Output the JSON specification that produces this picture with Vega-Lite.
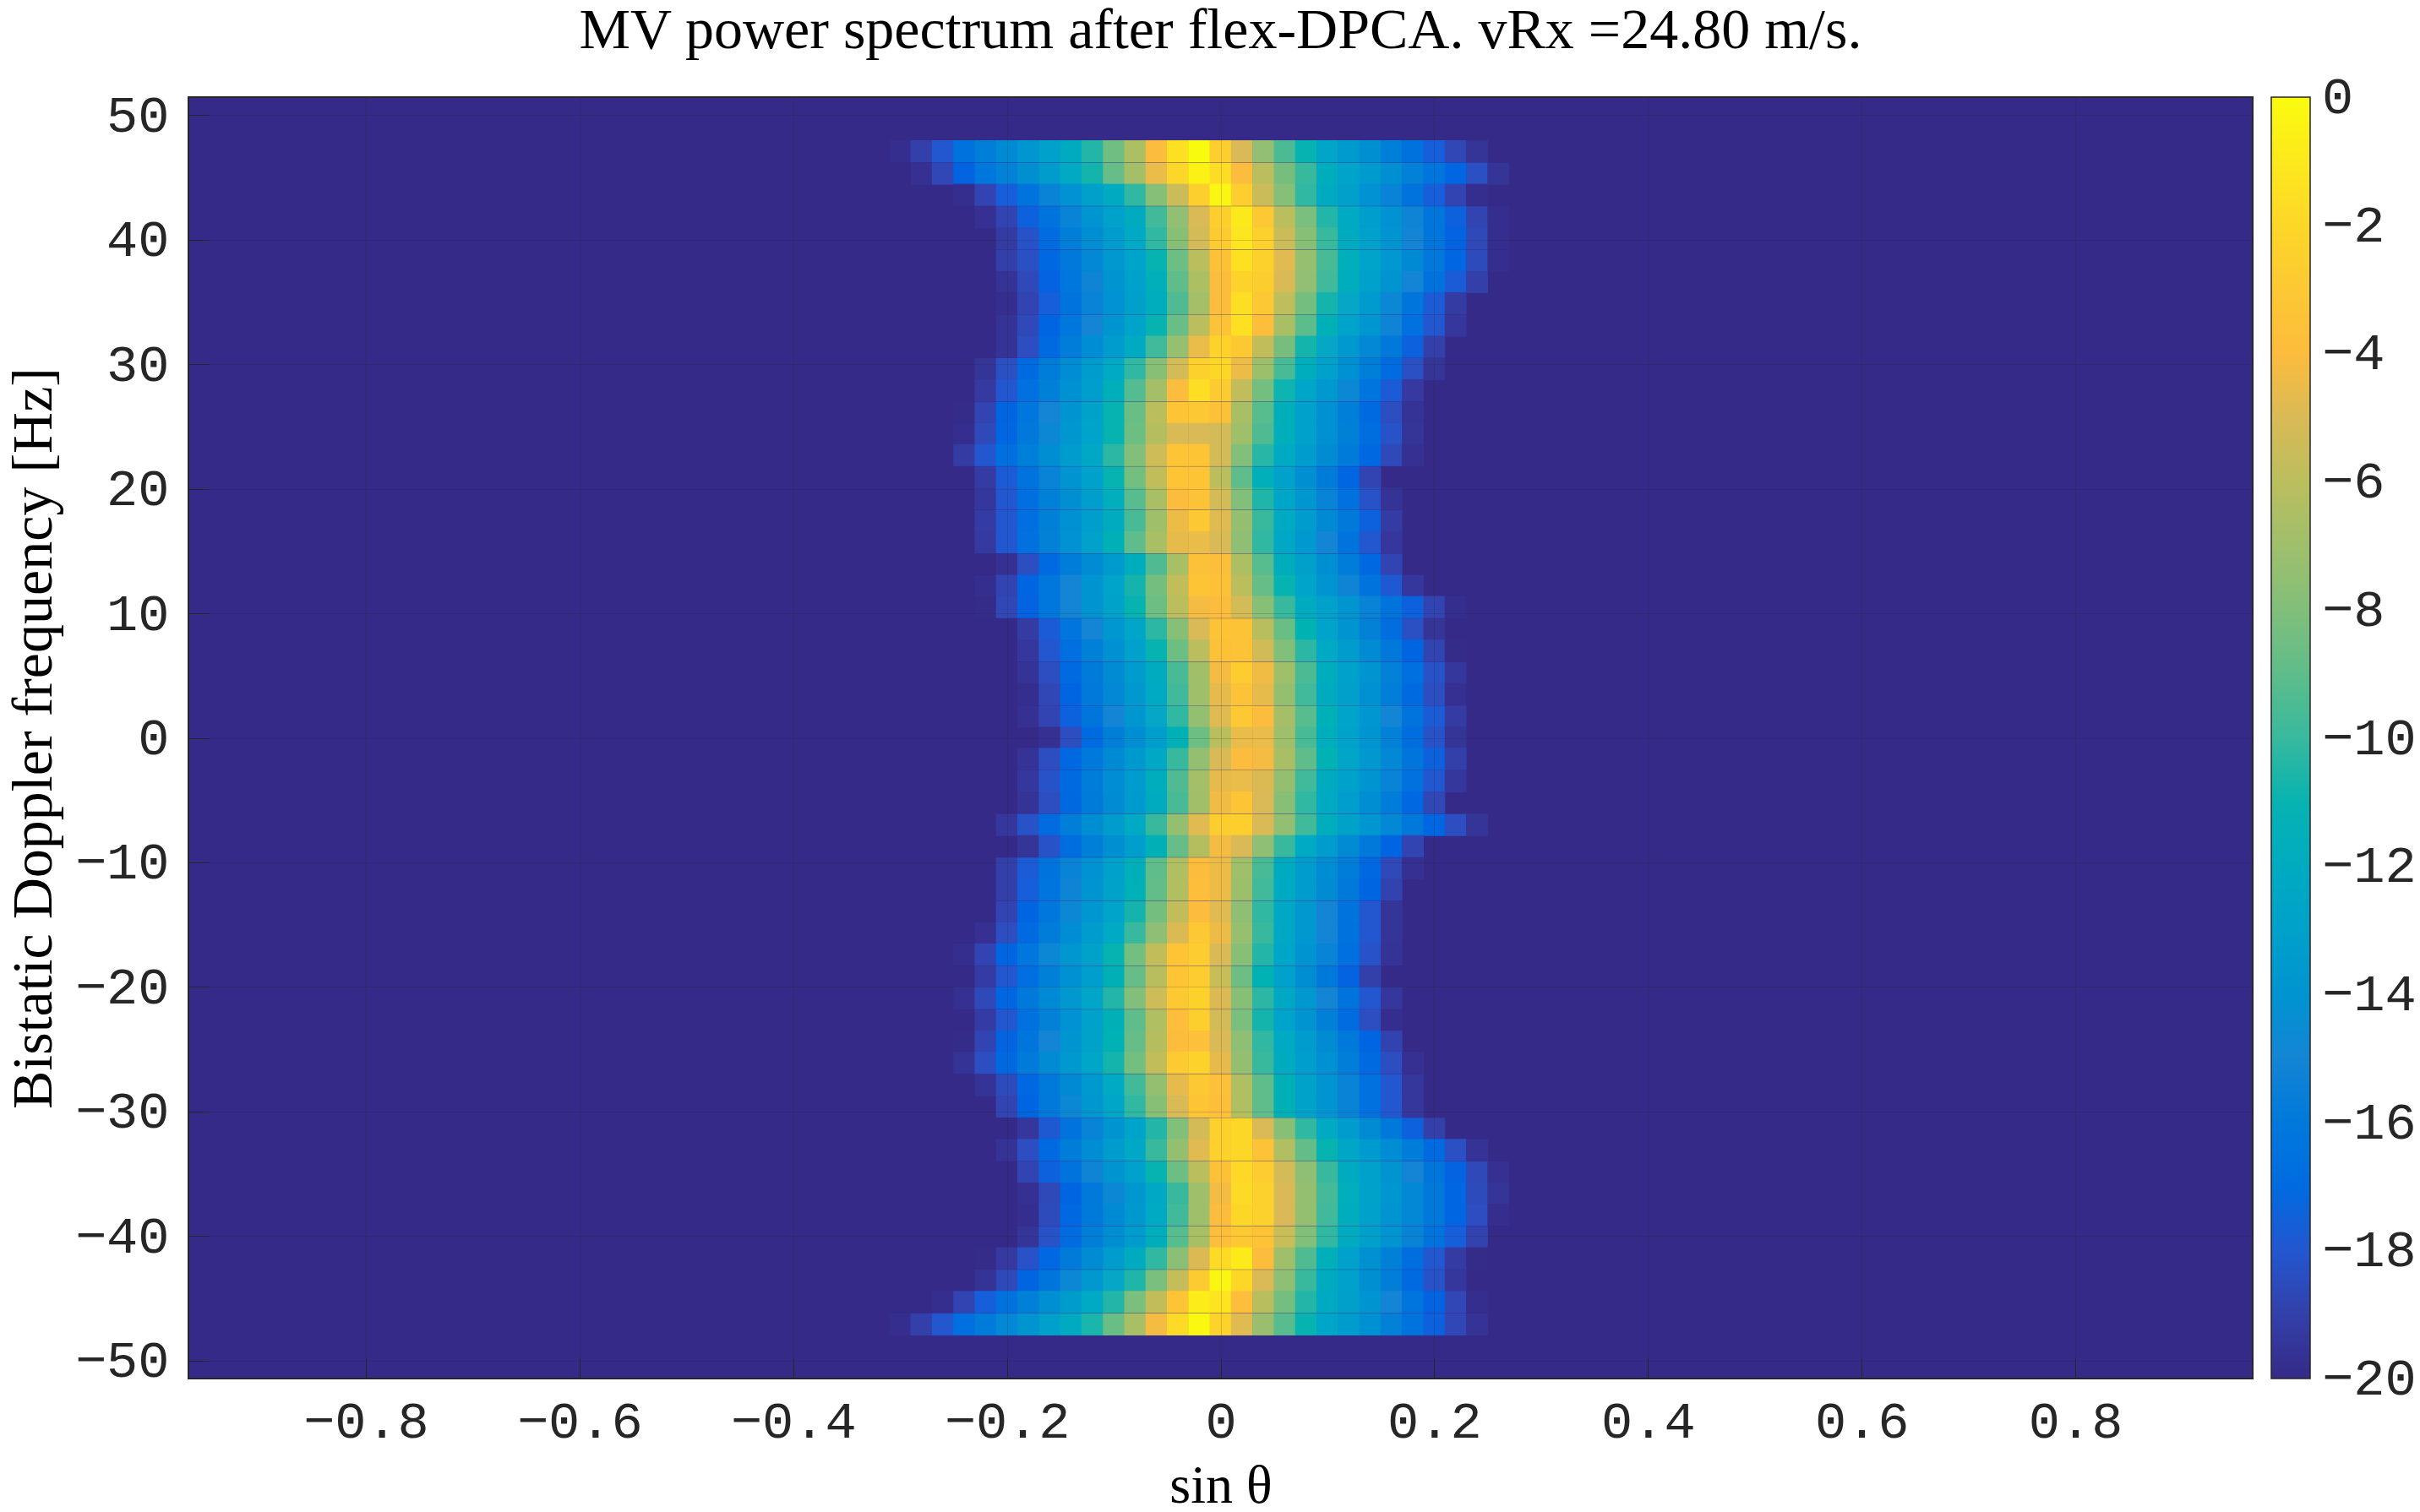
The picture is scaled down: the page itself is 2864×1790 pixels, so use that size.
{"$schema":"https://vega.github.io/schema/vega-lite/v6.json","autosize":"none","padding":{"left":223,"top":115,"right":198,"bottom":158},"width":2443,"height":1517,"background":"white","view":{"fill":"#352a87","stroke":"#262626","strokeWidth":2},"title":{"text":"MV power spectrum after flex-DPCA. vRx =24.80 m/s.","font":"Liberation Serif","fontSize":68,"fontWeight":"normal","color":"#000000","anchor":"middle","offset":34},"data":{"values":[
{"x":-0.3,"y":47.1,"v":-19.8},{"x":-0.28,"y":47.1,"v":-19},{"x":-0.26,"y":47.1,"v":-18},{"x":-0.24,"y":47.1,"v":-16.5},{"x":-0.22,"y":47.1,"v":-15.6},{"x":-0.2,"y":47.1,"v":-14.7},{"x":-0.18,"y":47.1,"v":-13.8},{"x":-0.16,"y":47.1,"v":-13},{"x":-0.14,"y":47.1,"v":-12},{"x":-0.12,"y":47.1,"v":-10.5},{"x":-0.1,"y":47.1,"v":-8.5},{"x":-0.08,"y":47.1,"v":-6.5},{"x":-0.06,"y":47.1,"v":-4},{"x":-0.04,"y":47.1,"v":-1.5},{"x":-0.02,"y":47.1,"v":0},{"x":0,"y":47.1,"v":-2.5},{"x":0.02,"y":47.1,"v":-5},{"x":0.04,"y":47.1,"v":-7.5},{"x":0.06,"y":47.1,"v":-9.5},{"x":0.08,"y":47.1,"v":-11},{"x":0.1,"y":47.1,"v":-12.7},{"x":0.12,"y":47.1,"v":-13.5},{"x":0.14,"y":47.1,"v":-14.3},{"x":0.16,"y":47.1,"v":-15.5},{"x":0.18,"y":47.1,"v":-16.5},{"x":0.2,"y":47.1,"v":-17.7},{"x":0.22,"y":47.1,"v":-18.7},{"x":0.24,"y":47.1,"v":-19.5},
{"x":-0.28,"y":45.3,"v":-19.7},{"x":-0.26,"y":45.3,"v":-18.7},{"x":-0.24,"y":45.3,"v":-17.5},{"x":-0.22,"y":45.3,"v":-16.1},{"x":-0.2,"y":45.3,"v":-15.3},{"x":-0.18,"y":45.3,"v":-14.3},{"x":-0.16,"y":45.3,"v":-13.3},{"x":-0.14,"y":45.3,"v":-12.2},{"x":-0.12,"y":45.3,"v":-10.8},{"x":-0.1,"y":45.3,"v":-8.8},{"x":-0.08,"y":45.3,"v":-6.8},{"x":-0.06,"y":45.3,"v":-4.5},{"x":-0.04,"y":45.3,"v":-2},{"x":-0.02,"y":45.3,"v":-0.5},{"x":0,"y":45.3,"v":-1.7},{"x":0.02,"y":45.3,"v":-4},{"x":0.04,"y":45.3,"v":-6},{"x":0.06,"y":45.3,"v":-8.3},{"x":0.08,"y":45.3,"v":-10},{"x":0.1,"y":45.3,"v":-11.8},{"x":0.12,"y":45.3,"v":-12.8},{"x":0.14,"y":45.3,"v":-13.5},{"x":0.16,"y":45.3,"v":-14.3},{"x":0.18,"y":45.3,"v":-15.3},{"x":0.2,"y":45.3,"v":-16.3},{"x":0.22,"y":45.3,"v":-17.3},{"x":0.24,"y":45.3,"v":-18.3},{"x":0.26,"y":45.3,"v":-19.5},
{"x":-0.24,"y":43.6,"v":-19.8},{"x":-0.22,"y":43.6,"v":-18.8},{"x":-0.2,"y":43.6,"v":-17.7},{"x":-0.18,"y":43.6,"v":-16.4},{"x":-0.16,"y":43.6,"v":-15.2},{"x":-0.14,"y":43.6,"v":-14.1},{"x":-0.12,"y":43.6,"v":-13.1},{"x":-0.1,"y":43.6,"v":-12.1},{"x":-0.08,"y":43.6,"v":-10.2},{"x":-0.06,"y":43.6,"v":-7.9},{"x":-0.04,"y":43.6,"v":-5.5},{"x":-0.02,"y":43.6,"v":-2.5},{"x":0,"y":43.6,"v":-0.3},{"x":0.02,"y":43.6,"v":-2.5},{"x":0.04,"y":43.6,"v":-5.5},{"x":0.06,"y":43.6,"v":-7.9},{"x":0.08,"y":43.6,"v":-10.2},{"x":0.1,"y":43.6,"v":-12.1},{"x":0.12,"y":43.6,"v":-13.1},{"x":0.14,"y":43.6,"v":-14.1},{"x":0.16,"y":43.6,"v":-15.2},{"x":0.18,"y":43.6,"v":-16.4},{"x":0.2,"y":43.6,"v":-17.7},{"x":0.22,"y":43.6,"v":-18.8},{"x":0.24,"y":43.6,"v":-19.8},
{"x":-0.22,"y":41.8,"v":-19.7},{"x":-0.2,"y":41.8,"v":-18.8},{"x":-0.18,"y":41.8,"v":-17.6},{"x":-0.16,"y":41.8,"v":-16.4},{"x":-0.14,"y":41.8,"v":-15.2},{"x":-0.12,"y":41.8,"v":-14},{"x":-0.1,"y":41.8,"v":-13},{"x":-0.08,"y":41.8,"v":-12},{"x":-0.06,"y":41.8,"v":-9.8},{"x":-0.04,"y":41.8,"v":-7.5},{"x":-0.02,"y":41.8,"v":-5},{"x":0,"y":41.8,"v":-2.5},{"x":0.02,"y":41.8,"v":-1},{"x":0.04,"y":41.8,"v":-3},{"x":0.06,"y":41.8,"v":-6},{"x":0.08,"y":41.8,"v":-8.2},{"x":0.1,"y":41.8,"v":-10.5},{"x":0.12,"y":41.8,"v":-12.2},{"x":0.14,"y":41.8,"v":-13.2},{"x":0.16,"y":41.8,"v":-14.1},{"x":0.18,"y":41.8,"v":-15.1},{"x":0.2,"y":41.8,"v":-16.2},{"x":0.22,"y":41.8,"v":-17.6},{"x":0.24,"y":41.8,"v":-18.8},{"x":0.26,"y":41.8,"v":-19.8},
{"x":-0.2,"y":40.1,"v":-19.2},{"x":-0.18,"y":40.1,"v":-18.2},{"x":-0.16,"y":40.1,"v":-16.9},{"x":-0.14,"y":40.1,"v":-15.6},{"x":-0.12,"y":40.1,"v":-14.4},{"x":-0.1,"y":40.1,"v":-13.4},{"x":-0.08,"y":40.1,"v":-12.3},{"x":-0.06,"y":40.1,"v":-10.2},{"x":-0.04,"y":40.1,"v":-7.8},{"x":-0.02,"y":40.1,"v":-5.2},{"x":0,"y":40.1,"v":-2.8},{"x":0.02,"y":40.1,"v":-1.2},{"x":0.04,"y":40.1,"v":-2.4},{"x":0.06,"y":40.1,"v":-5.5},{"x":0.08,"y":40.1,"v":-7.8},{"x":0.1,"y":40.1,"v":-10},{"x":0.12,"y":40.1,"v":-12},{"x":0.14,"y":40.1,"v":-13},{"x":0.16,"y":40.1,"v":-13.9},{"x":0.18,"y":40.1,"v":-15},{"x":0.2,"y":40.1,"v":-16.2},{"x":0.22,"y":40.1,"v":-17.5},{"x":0.24,"y":40.1,"v":-18.6},{"x":0.26,"y":40.1,"v":-19.8},
{"x":-0.2,"y":38.3,"v":-19},{"x":-0.18,"y":38.3,"v":-18.3},{"x":-0.16,"y":38.3,"v":-17.2},{"x":-0.14,"y":38.3,"v":-16},{"x":-0.12,"y":38.3,"v":-14.8},{"x":-0.1,"y":38.3,"v":-13.7},{"x":-0.08,"y":38.3,"v":-12.8},{"x":-0.06,"y":38.3,"v":-11},{"x":-0.04,"y":38.3,"v":-8.6},{"x":-0.02,"y":38.3,"v":-6},{"x":0,"y":38.3,"v":-3.6},{"x":0.02,"y":38.3,"v":-1.5},{"x":0.04,"y":38.3,"v":-2.3},{"x":0.06,"y":38.3,"v":-4.8},{"x":0.08,"y":38.3,"v":-7.3},{"x":0.1,"y":38.3,"v":-9.6},{"x":0.12,"y":38.3,"v":-11.5},{"x":0.14,"y":38.3,"v":-12.8},{"x":0.16,"y":38.3,"v":-13.7},{"x":0.18,"y":38.3,"v":-14.7},{"x":0.2,"y":38.3,"v":-16},{"x":0.22,"y":38.3,"v":-17.3},{"x":0.24,"y":38.3,"v":-18.5},{"x":0.26,"y":38.3,"v":-19.8},
{"x":-0.2,"y":36.6,"v":-19.6},{"x":-0.18,"y":36.6,"v":-18.6},{"x":-0.16,"y":36.6,"v":-17.5},{"x":-0.14,"y":36.6,"v":-16.1},{"x":-0.12,"y":36.6,"v":-15.1},{"x":-0.1,"y":36.6,"v":-14},{"x":-0.08,"y":36.6,"v":-13},{"x":-0.06,"y":36.6,"v":-11.5},{"x":-0.04,"y":36.6,"v":-9},{"x":-0.02,"y":36.6,"v":-6.5},{"x":0,"y":36.6,"v":-4},{"x":0.02,"y":36.6,"v":-2.2},{"x":0.04,"y":36.6,"v":-2.6},{"x":0.06,"y":36.6,"v":-5},{"x":0.08,"y":36.6,"v":-7.5},{"x":0.1,"y":36.6,"v":-9.8},{"x":0.12,"y":36.6,"v":-11.8},{"x":0.14,"y":36.6,"v":-13},{"x":0.16,"y":36.6,"v":-13.9},{"x":0.18,"y":36.6,"v":-15},{"x":0.2,"y":36.6,"v":-16.5},{"x":0.22,"y":36.6,"v":-17.8},{"x":0.24,"y":36.6,"v":-19},
{"x":-0.2,"y":34.9,"v":-19.8},{"x":-0.18,"y":34.9,"v":-18.8},{"x":-0.16,"y":34.9,"v":-17.7},{"x":-0.14,"y":34.9,"v":-16.4},{"x":-0.12,"y":34.9,"v":-15.2},{"x":-0.1,"y":34.9,"v":-14.1},{"x":-0.08,"y":34.9,"v":-13.1},{"x":-0.06,"y":34.9,"v":-11.8},{"x":-0.04,"y":34.9,"v":-9.4},{"x":-0.02,"y":34.9,"v":-6.8},{"x":0,"y":34.9,"v":-4},{"x":0.02,"y":34.9,"v":-1.6},{"x":0.04,"y":34.9,"v":-3},{"x":0.06,"y":34.9,"v":-5.9},{"x":0.08,"y":34.9,"v":-8.4},{"x":0.1,"y":34.9,"v":-10.8},{"x":0.12,"y":34.9,"v":-12.5},{"x":0.14,"y":34.9,"v":-13.5},{"x":0.16,"y":34.9,"v":-14.9},{"x":0.18,"y":34.9,"v":-16.2},{"x":0.2,"y":34.9,"v":-17.8},{"x":0.22,"y":34.9,"v":-19.2},
{"x":-0.2,"y":33.1,"v":-19.6},{"x":-0.18,"y":33.1,"v":-18.6},{"x":-0.16,"y":33.1,"v":-17.4},{"x":-0.14,"y":33.1,"v":-16.1},{"x":-0.12,"y":33.1,"v":-15},{"x":-0.1,"y":33.1,"v":-13.9},{"x":-0.08,"y":33.1,"v":-12.8},{"x":-0.06,"y":33.1,"v":-11},{"x":-0.04,"y":33.1,"v":-8.7},{"x":-0.02,"y":33.1,"v":-6},{"x":0,"y":33.1,"v":-3.5},{"x":0.02,"y":33.1,"v":-1.5},{"x":0.04,"y":33.1,"v":-3.8},{"x":0.06,"y":33.1,"v":-6.6},{"x":0.08,"y":33.1,"v":-9.1},{"x":0.1,"y":33.1,"v":-11.4},{"x":0.12,"y":33.1,"v":-12.8},{"x":0.14,"y":33.1,"v":-13.8},{"x":0.16,"y":33.1,"v":-15.1},{"x":0.18,"y":33.1,"v":-16.6},{"x":0.2,"y":33.1,"v":-18},{"x":0.22,"y":33.1,"v":-19.4},
{"x":-0.2,"y":31.4,"v":-19.6},{"x":-0.18,"y":31.4,"v":-18.4},{"x":-0.16,"y":31.4,"v":-17},{"x":-0.14,"y":31.4,"v":-15.7},{"x":-0.12,"y":31.4,"v":-14.5},{"x":-0.1,"y":31.4,"v":-13.4},{"x":-0.08,"y":31.4,"v":-12.1},{"x":-0.06,"y":31.4,"v":-9.8},{"x":-0.04,"y":31.4,"v":-7.3},{"x":-0.02,"y":31.4,"v":-4.5},{"x":0,"y":31.4,"v":-2.2},{"x":0.02,"y":31.4,"v":-2.9},{"x":0.04,"y":31.4,"v":-5.8},{"x":0.06,"y":31.4,"v":-8.3},{"x":0.08,"y":31.4,"v":-10.8},{"x":0.1,"y":31.4,"v":-12.5},{"x":0.12,"y":31.4,"v":-13.6},{"x":0.14,"y":31.4,"v":-14.8},{"x":0.16,"y":31.4,"v":-16},{"x":0.18,"y":31.4,"v":-17.6},{"x":0.2,"y":31.4,"v":-19},
{"x":-0.22,"y":29.6,"v":-19.5},{"x":-0.2,"y":29.6,"v":-18.3},{"x":-0.18,"y":29.6,"v":-17},{"x":-0.16,"y":29.6,"v":-15.7},{"x":-0.14,"y":29.6,"v":-14.5},{"x":-0.12,"y":29.6,"v":-13.4},{"x":-0.1,"y":29.6,"v":-12.3},{"x":-0.08,"y":29.6,"v":-10.2},{"x":-0.06,"y":29.6,"v":-7.8},{"x":-0.04,"y":29.6,"v":-5.2},{"x":-0.02,"y":29.6,"v":-2.4},{"x":0,"y":29.6,"v":-2},{"x":0.02,"y":29.6,"v":-4.4},{"x":0.04,"y":29.6,"v":-7.1},{"x":0.06,"y":29.6,"v":-9.6},{"x":0.08,"y":29.6,"v":-11.8},{"x":0.1,"y":29.6,"v":-13},{"x":0.12,"y":29.6,"v":-14.2},{"x":0.14,"y":29.6,"v":-15.5},{"x":0.16,"y":29.6,"v":-16.9},{"x":0.18,"y":29.6,"v":-18.3},{"x":0.2,"y":29.6,"v":-19.5},
{"x":-0.22,"y":27.9,"v":-19.3},{"x":-0.2,"y":27.9,"v":-18},{"x":-0.18,"y":27.9,"v":-16.6},{"x":-0.16,"y":27.9,"v":-15.4},{"x":-0.14,"y":27.9,"v":-14.2},{"x":-0.12,"y":27.9,"v":-13.2},{"x":-0.1,"y":27.9,"v":-11.6},{"x":-0.08,"y":27.9,"v":-9.3},{"x":-0.06,"y":27.9,"v":-6.8},{"x":-0.04,"y":27.9,"v":-4},{"x":-0.02,"y":27.9,"v":-1.6},{"x":0,"y":27.9,"v":-2.8},{"x":0.02,"y":27.9,"v":-5.8},{"x":0.04,"y":27.9,"v":-8.4},{"x":0.06,"y":27.9,"v":-10.9},{"x":0.08,"y":27.9,"v":-12.6},{"x":0.1,"y":27.9,"v":-13.6},{"x":0.12,"y":27.9,"v":-14.9},{"x":0.14,"y":27.9,"v":-16.3},{"x":0.16,"y":27.9,"v":-17.8},{"x":0.18,"y":27.9,"v":-19.3},
{"x":-0.24,"y":26.1,"v":-19.9},{"x":-0.22,"y":26.1,"v":-18.8},{"x":-0.2,"y":26.1,"v":-17.4},{"x":-0.18,"y":26.1,"v":-16.1},{"x":-0.16,"y":26.1,"v":-15},{"x":-0.14,"y":26.1,"v":-13.9},{"x":-0.12,"y":26.1,"v":-12.9},{"x":-0.1,"y":26.1,"v":-11},{"x":-0.08,"y":26.1,"v":-8.7},{"x":-0.06,"y":26.1,"v":-6},{"x":-0.04,"y":26.1,"v":-3.3},{"x":-0.02,"y":26.1,"v":-3},{"x":0,"y":26.1,"v":-3.6},{"x":0.02,"y":26.1,"v":-6.6},{"x":0.04,"y":26.1,"v":-9.2},{"x":0.06,"y":26.1,"v":-11.6},{"x":0.08,"y":26.1,"v":-13},{"x":0.1,"y":26.1,"v":-14.2},{"x":0.12,"y":26.1,"v":-15.5},{"x":0.14,"y":26.1,"v":-17},{"x":0.16,"y":26.1,"v":-18.4},{"x":0.18,"y":26.1,"v":-19.6},
{"x":-0.24,"y":24.4,"v":-19.8},{"x":-0.22,"y":24.4,"v":-18.6},{"x":-0.2,"y":24.4,"v":-17.3},{"x":-0.18,"y":24.4,"v":-16},{"x":-0.16,"y":24.4,"v":-14.9},{"x":-0.14,"y":24.4,"v":-13.8},{"x":-0.12,"y":24.4,"v":-12.8},{"x":-0.1,"y":24.4,"v":-11},{"x":-0.08,"y":24.4,"v":-8.6},{"x":-0.06,"y":24.4,"v":-6.2},{"x":-0.04,"y":24.4,"v":-5},{"x":-0.02,"y":24.4,"v":-5},{"x":0,"y":24.4,"v":-5.2},{"x":0.02,"y":24.4,"v":-7},{"x":0.04,"y":24.4,"v":-9.4},{"x":0.06,"y":24.4,"v":-11.6},{"x":0.08,"y":24.4,"v":-13},{"x":0.1,"y":24.4,"v":-14.2},{"x":0.12,"y":24.4,"v":-15.4},{"x":0.14,"y":24.4,"v":-16.8},{"x":0.16,"y":24.4,"v":-18.2},{"x":0.18,"y":24.4,"v":-19.5},
{"x":-0.24,"y":22.7,"v":-19.2},{"x":-0.22,"y":22.7,"v":-18},{"x":-0.2,"y":22.7,"v":-16.7},{"x":-0.18,"y":22.7,"v":-15.5},{"x":-0.16,"y":22.7,"v":-14.4},{"x":-0.14,"y":22.7,"v":-13.4},{"x":-0.12,"y":22.7,"v":-12.4},{"x":-0.1,"y":22.7,"v":-10.3},{"x":-0.08,"y":22.7,"v":-8},{"x":-0.06,"y":22.7,"v":-5.4},{"x":-0.04,"y":22.7,"v":-3.2},{"x":-0.02,"y":22.7,"v":-3.2},{"x":0,"y":22.7,"v":-5.2},{"x":0.02,"y":22.7,"v":-8},{"x":0.04,"y":22.7,"v":-10.4},{"x":0.06,"y":22.7,"v":-12.2},{"x":0.08,"y":22.7,"v":-13.4},{"x":0.1,"y":22.7,"v":-14.6},{"x":0.12,"y":22.7,"v":-15.8},{"x":0.14,"y":22.7,"v":-17.2},{"x":0.16,"y":22.7,"v":-18.6},{"x":0.18,"y":22.7,"v":-19.7},
{"x":-0.22,"y":20.9,"v":-19.2},{"x":-0.2,"y":20.9,"v":-17.8},{"x":-0.18,"y":20.9,"v":-16.4},{"x":-0.16,"y":20.9,"v":-15.2},{"x":-0.14,"y":20.9,"v":-14},{"x":-0.12,"y":20.9,"v":-13},{"x":-0.1,"y":20.9,"v":-11},{"x":-0.08,"y":20.9,"v":-8.4},{"x":-0.06,"y":20.9,"v":-5.8},{"x":-0.04,"y":20.9,"v":-3.2},{"x":-0.02,"y":20.9,"v":-3.2},{"x":0,"y":20.9,"v":-6},{"x":0.02,"y":20.9,"v":-9},{"x":0.04,"y":20.9,"v":-11.5},{"x":0.06,"y":20.9,"v":-13},{"x":0.08,"y":20.9,"v":-14.3},{"x":0.1,"y":20.9,"v":-15.8},{"x":0.12,"y":20.9,"v":-17.3},{"x":0.14,"y":20.9,"v":-18.8},
{"x":-0.22,"y":19.2,"v":-19.4},{"x":-0.2,"y":19.2,"v":-18},{"x":-0.18,"y":19.2,"v":-16.7},{"x":-0.16,"y":19.2,"v":-15.4},{"x":-0.14,"y":19.2,"v":-14.3},{"x":-0.12,"y":19.2,"v":-13.2},{"x":-0.1,"y":19.2,"v":-11.7},{"x":-0.08,"y":19.2,"v":-9.2},{"x":-0.06,"y":19.2,"v":-6.6},{"x":-0.04,"y":19.2,"v":-4},{"x":-0.02,"y":19.2,"v":-3.5},{"x":0,"y":19.2,"v":-5.2},{"x":0.02,"y":19.2,"v":-8},{"x":0.04,"y":19.2,"v":-10.6},{"x":0.06,"y":19.2,"v":-12.6},{"x":0.08,"y":19.2,"v":-13.8},{"x":0.1,"y":19.2,"v":-15.2},{"x":0.12,"y":19.2,"v":-16.6},{"x":0.14,"y":19.2,"v":-18.2},{"x":0.16,"y":19.2,"v":-19.6},
{"x":-0.22,"y":17.4,"v":-19.2},{"x":-0.2,"y":17.4,"v":-18},{"x":-0.18,"y":17.4,"v":-16.7},{"x":-0.16,"y":17.4,"v":-15.4},{"x":-0.14,"y":17.4,"v":-14.2},{"x":-0.12,"y":17.4,"v":-13.2},{"x":-0.1,"y":17.4,"v":-12},{"x":-0.08,"y":17.4,"v":-9.6},{"x":-0.06,"y":17.4,"v":-7},{"x":-0.04,"y":17.4,"v":-4.4},{"x":-0.02,"y":17.4,"v":-3},{"x":0,"y":17.4,"v":-4.8},{"x":0.02,"y":17.4,"v":-7.4},{"x":0.04,"y":17.4,"v":-10},{"x":0.06,"y":17.4,"v":-12.2},{"x":0.08,"y":17.4,"v":-13.4},{"x":0.1,"y":17.4,"v":-14.7},{"x":0.12,"y":17.4,"v":-16},{"x":0.14,"y":17.4,"v":-17.6},{"x":0.16,"y":17.4,"v":-19.2},
{"x":-0.22,"y":15.7,"v":-19.3},{"x":-0.2,"y":15.7,"v":-18},{"x":-0.18,"y":15.7,"v":-16.6},{"x":-0.16,"y":15.7,"v":-15.3},{"x":-0.14,"y":15.7,"v":-14.1},{"x":-0.12,"y":15.7,"v":-13},{"x":-0.1,"y":15.7,"v":-11.4},{"x":-0.08,"y":15.7,"v":-9},{"x":-0.06,"y":15.7,"v":-6.6},{"x":-0.04,"y":15.7,"v":-4.6},{"x":-0.02,"y":15.7,"v":-4.5},{"x":0,"y":15.7,"v":-5},{"x":0.02,"y":15.7,"v":-7.6},{"x":0.04,"y":15.7,"v":-10.2},{"x":0.06,"y":15.7,"v":-12.4},{"x":0.08,"y":15.7,"v":-13.6},{"x":0.1,"y":15.7,"v":-15},{"x":0.12,"y":15.7,"v":-16.4},{"x":0.14,"y":15.7,"v":-18},{"x":0.16,"y":15.7,"v":-19.4},
{"x":-0.2,"y":13.9,"v":-19.7},{"x":-0.18,"y":13.9,"v":-18.4},{"x":-0.16,"y":13.9,"v":-17},{"x":-0.14,"y":13.9,"v":-15.7},{"x":-0.12,"y":13.9,"v":-14.6},{"x":-0.1,"y":13.9,"v":-13.5},{"x":-0.08,"y":13.9,"v":-11.8},{"x":-0.06,"y":13.9,"v":-9.4},{"x":-0.04,"y":13.9,"v":-6.6},{"x":-0.02,"y":13.9,"v":-3.6},{"x":0,"y":13.9,"v":-3.8},{"x":0.02,"y":13.9,"v":-6.5},{"x":0.04,"y":13.9,"v":-9.2},{"x":0.06,"y":13.9,"v":-11.8},{"x":0.08,"y":13.9,"v":-13.1},{"x":0.1,"y":13.9,"v":-14.3},{"x":0.12,"y":13.9,"v":-15.7},{"x":0.14,"y":13.9,"v":-17.2},{"x":0.16,"y":13.9,"v":-18.8},
{"x":-0.22,"y":12.2,"v":-19.8},{"x":-0.2,"y":12.2,"v":-18.8},{"x":-0.18,"y":12.2,"v":-17.4},{"x":-0.16,"y":12.2,"v":-16.1},{"x":-0.14,"y":12.2,"v":-15},{"x":-0.12,"y":12.2,"v":-13.9},{"x":-0.1,"y":12.2,"v":-12.8},{"x":-0.08,"y":12.2,"v":-10.8},{"x":-0.06,"y":12.2,"v":-8.4},{"x":-0.04,"y":12.2,"v":-5.8},{"x":-0.02,"y":12.2,"v":-3.2},{"x":0,"y":12.2,"v":-3.6},{"x":0.02,"y":12.2,"v":-6},{"x":0.04,"y":12.2,"v":-8.8},{"x":0.06,"y":12.2,"v":-11},{"x":0.08,"y":12.2,"v":-12.8},{"x":0.1,"y":12.2,"v":-13.9},{"x":0.12,"y":12.2,"v":-15.1},{"x":0.14,"y":12.2,"v":-16.4},{"x":0.16,"y":12.2,"v":-17.9},{"x":0.18,"y":12.2,"v":-19.4},
{"x":-0.22,"y":10.5,"v":-19.9},{"x":-0.2,"y":10.5,"v":-18.7},{"x":-0.18,"y":10.5,"v":-17.5},{"x":-0.16,"y":10.5,"v":-16.1},{"x":-0.14,"y":10.5,"v":-15},{"x":-0.12,"y":10.5,"v":-13.9},{"x":-0.1,"y":10.5,"v":-12.9},{"x":-0.08,"y":10.5,"v":-11},{"x":-0.06,"y":10.5,"v":-8.6},{"x":-0.04,"y":10.5,"v":-6},{"x":-0.02,"y":10.5,"v":-4.2},{"x":0,"y":10.5,"v":-4},{"x":0.02,"y":10.5,"v":-5.2},{"x":0.04,"y":10.5,"v":-7.8},{"x":0.06,"y":10.5,"v":-10},{"x":0.08,"y":10.5,"v":-12},{"x":0.1,"y":10.5,"v":-13},{"x":0.12,"y":10.5,"v":-14},{"x":0.14,"y":10.5,"v":-15.2},{"x":0.16,"y":10.5,"v":-16.4},{"x":0.18,"y":10.5,"v":-17.6},{"x":0.2,"y":10.5,"v":-18.8},{"x":0.22,"y":10.5,"v":-19.8},
{"x":-0.18,"y":8.7,"v":-19.2},{"x":-0.16,"y":8.7,"v":-17.8},{"x":-0.14,"y":8.7,"v":-16.3},{"x":-0.12,"y":8.7,"v":-15},{"x":-0.1,"y":8.7,"v":-13.8},{"x":-0.08,"y":8.7,"v":-12.6},{"x":-0.06,"y":8.7,"v":-10.3},{"x":-0.04,"y":8.7,"v":-7.8},{"x":-0.02,"y":8.7,"v":-5},{"x":0,"y":8.7,"v":-3.4},{"x":0.02,"y":8.7,"v":-3.4},{"x":0.04,"y":8.7,"v":-6.1},{"x":0.06,"y":8.7,"v":-8.7},{"x":0.08,"y":8.7,"v":-11.1},{"x":0.1,"y":8.7,"v":-12.8},{"x":0.12,"y":8.7,"v":-13.9},{"x":0.14,"y":8.7,"v":-15.3},{"x":0.16,"y":8.7,"v":-16.8},{"x":0.18,"y":8.7,"v":-18.3},{"x":0.2,"y":8.7,"v":-19.5},
{"x":-0.18,"y":7,"v":-19.4},{"x":-0.16,"y":7,"v":-18},{"x":-0.14,"y":7,"v":-16.7},{"x":-0.12,"y":7,"v":-15.4},{"x":-0.1,"y":7,"v":-14.2},{"x":-0.08,"y":7,"v":-13},{"x":-0.06,"y":7,"v":-11},{"x":-0.04,"y":7,"v":-8.6},{"x":-0.02,"y":7,"v":-6},{"x":0,"y":7,"v":-3.6},{"x":0.02,"y":7,"v":-3.5},{"x":0.04,"y":7,"v":-5.3},{"x":0.06,"y":7,"v":-8},{"x":0.08,"y":7,"v":-10.3},{"x":0.1,"y":7,"v":-12.3},{"x":0.12,"y":7,"v":-13.4},{"x":0.14,"y":7,"v":-14.6},{"x":0.16,"y":7,"v":-16},{"x":0.18,"y":7,"v":-17.4},{"x":0.2,"y":7,"v":-18.8},{"x":0.22,"y":7,"v":-19.9},
{"x":-0.18,"y":5.2,"v":-19.6},{"x":-0.16,"y":5.2,"v":-18.4},{"x":-0.14,"y":5.2,"v":-17},{"x":-0.12,"y":5.2,"v":-15.8},{"x":-0.1,"y":5.2,"v":-14.6},{"x":-0.08,"y":5.2,"v":-13.4},{"x":-0.06,"y":5.2,"v":-12},{"x":-0.04,"y":5.2,"v":-9.6},{"x":-0.02,"y":5.2,"v":-6.9},{"x":0,"y":5.2,"v":-4.2},{"x":0.02,"y":5.2,"v":-2.7},{"x":0.04,"y":5.2,"v":-4.3},{"x":0.06,"y":5.2,"v":-7},{"x":0.08,"y":5.2,"v":-9.5},{"x":0.1,"y":5.2,"v":-11.8},{"x":0.12,"y":5.2,"v":-13},{"x":0.14,"y":5.2,"v":-14},{"x":0.16,"y":5.2,"v":-15.3},{"x":0.18,"y":5.2,"v":-16.7},{"x":0.2,"y":5.2,"v":-18.2},{"x":0.22,"y":5.2,"v":-19.4},
{"x":-0.18,"y":3.5,"v":-19.8},{"x":-0.16,"y":3.5,"v":-18.7},{"x":-0.14,"y":3.5,"v":-17.4},{"x":-0.12,"y":3.5,"v":-16},{"x":-0.1,"y":3.5,"v":-14.8},{"x":-0.08,"y":3.5,"v":-13.7},{"x":-0.06,"y":3.5,"v":-12.2},{"x":-0.04,"y":3.5,"v":-9.8},{"x":-0.02,"y":3.5,"v":-7},{"x":0,"y":3.5,"v":-4.6},{"x":0.02,"y":3.5,"v":-3.5},{"x":0.04,"y":3.5,"v":-4.6},{"x":0.06,"y":3.5,"v":-7.4},{"x":0.08,"y":3.5,"v":-9.8},{"x":0.1,"y":3.5,"v":-12},{"x":0.12,"y":3.5,"v":-13.1},{"x":0.14,"y":3.5,"v":-14.2},{"x":0.16,"y":3.5,"v":-15.6},{"x":0.18,"y":3.5,"v":-17},{"x":0.2,"y":3.5,"v":-18.4},{"x":0.22,"y":3.5,"v":-19.7},
{"x":-0.18,"y":1.7,"v":-19.7},{"x":-0.16,"y":1.7,"v":-18.8},{"x":-0.14,"y":1.7,"v":-17.6},{"x":-0.12,"y":1.7,"v":-16.2},{"x":-0.1,"y":1.7,"v":-15},{"x":-0.08,"y":1.7,"v":-13.8},{"x":-0.06,"y":1.7,"v":-12.5},{"x":-0.04,"y":1.7,"v":-10.2},{"x":-0.02,"y":1.7,"v":-7.4},{"x":0,"y":1.7,"v":-4.8},{"x":0.02,"y":1.7,"v":-3},{"x":0.04,"y":1.7,"v":-4},{"x":0.06,"y":1.7,"v":-6.8},{"x":0.08,"y":1.7,"v":-9.2},{"x":0.1,"y":1.7,"v":-11.4},{"x":0.12,"y":1.7,"v":-12.8},{"x":0.14,"y":1.7,"v":-13.8},{"x":0.16,"y":1.7,"v":-15},{"x":0.18,"y":1.7,"v":-16.4},{"x":0.2,"y":1.7,"v":-17.8},{"x":0.22,"y":1.7,"v":-19.2},
{"x":-0.16,"y":0,"v":-19.7},{"x":-0.14,"y":0,"v":-18.4},{"x":-0.12,"y":0,"v":-17},{"x":-0.1,"y":0,"v":-15.6},{"x":-0.08,"y":0,"v":-14.4},{"x":-0.06,"y":0,"v":-13.2},{"x":-0.04,"y":0,"v":-11.4},{"x":-0.02,"y":0,"v":-8.6},{"x":0,"y":0,"v":-6},{"x":0.02,"y":0,"v":-4.5},{"x":0.04,"y":0,"v":-4.5},{"x":0.06,"y":0,"v":-7},{"x":0.08,"y":0,"v":-9.6},{"x":0.1,"y":0,"v":-11.8},{"x":0.12,"y":0,"v":-13},{"x":0.14,"y":0,"v":-14},{"x":0.16,"y":0,"v":-15.3},{"x":0.18,"y":0,"v":-16.8},{"x":0.2,"y":0,"v":-18.2},{"x":0.22,"y":0,"v":-19.5},
{"x":-0.18,"y":-1.7,"v":-19.6},{"x":-0.16,"y":-1.7,"v":-18.4},{"x":-0.14,"y":-1.7,"v":-17.2},{"x":-0.12,"y":-1.7,"v":-15.9},{"x":-0.1,"y":-1.7,"v":-14.7},{"x":-0.08,"y":-1.7,"v":-13.6},{"x":-0.06,"y":-1.7,"v":-12.4},{"x":-0.04,"y":-1.7,"v":-10},{"x":-0.02,"y":-1.7,"v":-7.4},{"x":0,"y":-1.7,"v":-5},{"x":0.02,"y":-1.7,"v":-4},{"x":0.04,"y":-1.7,"v":-4.2},{"x":0.06,"y":-1.7,"v":-6.6},{"x":0.08,"y":-1.7,"v":-9},{"x":0.1,"y":-1.7,"v":-11.2},{"x":0.12,"y":-1.7,"v":-12.7},{"x":0.14,"y":-1.7,"v":-13.7},{"x":0.16,"y":-1.7,"v":-14.8},{"x":0.18,"y":-1.7,"v":-16.2},{"x":0.2,"y":-1.7,"v":-17.6},{"x":0.22,"y":-1.7,"v":-19},
{"x":-0.18,"y":-3.5,"v":-19.4},{"x":-0.16,"y":-3.5,"v":-18.2},{"x":-0.14,"y":-3.5,"v":-17},{"x":-0.12,"y":-3.5,"v":-15.7},{"x":-0.1,"y":-3.5,"v":-14.5},{"x":-0.08,"y":-3.5,"v":-13.4},{"x":-0.06,"y":-3.5,"v":-11.8},{"x":-0.04,"y":-3.5,"v":-9.4},{"x":-0.02,"y":-3.5,"v":-6.8},{"x":0,"y":-3.5,"v":-4.6},{"x":0.02,"y":-3.5,"v":-4.5},{"x":0.04,"y":-3.5,"v":-4.9},{"x":0.06,"y":-3.5,"v":-7.4},{"x":0.08,"y":-3.5,"v":-9.8},{"x":0.1,"y":-3.5,"v":-12},{"x":0.12,"y":-3.5,"v":-13},{"x":0.14,"y":-3.5,"v":-14},{"x":0.16,"y":-3.5,"v":-15.2},{"x":0.18,"y":-3.5,"v":-16.6},{"x":0.2,"y":-3.5,"v":-18},{"x":0.22,"y":-3.5,"v":-19.4},
{"x":-0.18,"y":-5.2,"v":-19.6},{"x":-0.16,"y":-5.2,"v":-18.4},{"x":-0.14,"y":-5.2,"v":-17.1},{"x":-0.12,"y":-5.2,"v":-15.8},{"x":-0.1,"y":-5.2,"v":-14.6},{"x":-0.08,"y":-5.2,"v":-13.5},{"x":-0.06,"y":-5.2,"v":-12},{"x":-0.04,"y":-5.2,"v":-9.6},{"x":-0.02,"y":-5.2,"v":-6.9},{"x":0,"y":-5.2,"v":-4.3},{"x":0.02,"y":-5.2,"v":-3.2},{"x":0.04,"y":-5.2,"v":-5},{"x":0.06,"y":-5.2,"v":-7.8},{"x":0.08,"y":-5.2,"v":-10.2},{"x":0.1,"y":-5.2,"v":-12.2},{"x":0.12,"y":-5.2,"v":-13.2},{"x":0.14,"y":-5.2,"v":-14.4},{"x":0.16,"y":-5.2,"v":-15.7},{"x":0.18,"y":-5.2,"v":-17.2},{"x":0.2,"y":-5.2,"v":-18.7},
{"x":-0.2,"y":-7,"v":-19.4},{"x":-0.18,"y":-7,"v":-18.2},{"x":-0.16,"y":-7,"v":-16.9},{"x":-0.14,"y":-7,"v":-15.6},{"x":-0.12,"y":-7,"v":-14.4},{"x":-0.1,"y":-7,"v":-13.4},{"x":-0.08,"y":-7,"v":-12.2},{"x":-0.06,"y":-7,"v":-10},{"x":-0.04,"y":-7,"v":-7.4},{"x":-0.02,"y":-7,"v":-4.8},{"x":0,"y":-7,"v":-2.6},{"x":0.02,"y":-7,"v":-2.5},{"x":0.04,"y":-7,"v":-5},{"x":0.06,"y":-7,"v":-7.5},{"x":0.08,"y":-7,"v":-9.8},{"x":0.1,"y":-7,"v":-11.8},{"x":0.12,"y":-7,"v":-12.9},{"x":0.14,"y":-7,"v":-13.8},{"x":0.16,"y":-7,"v":-14.8},{"x":0.18,"y":-7,"v":-16},{"x":0.2,"y":-7,"v":-17.3},{"x":0.22,"y":-7,"v":-18.4},{"x":0.24,"y":-7,"v":-19.5},
{"x":-0.18,"y":-8.7,"v":-19.5},{"x":-0.16,"y":-8.7,"v":-18.2},{"x":-0.14,"y":-8.7,"v":-16.8},{"x":-0.12,"y":-8.7,"v":-15.5},{"x":-0.1,"y":-8.7,"v":-14.3},{"x":-0.08,"y":-8.7,"v":-13.2},{"x":-0.06,"y":-8.7,"v":-11.4},{"x":-0.04,"y":-8.7,"v":-8.8},{"x":-0.02,"y":-8.7,"v":-6.2},{"x":0,"y":-8.7,"v":-4.2},{"x":0.02,"y":-8.7,"v":-5},{"x":0.04,"y":-8.7,"v":-7.6},{"x":0.06,"y":-8.7,"v":-10},{"x":0.08,"y":-8.7,"v":-12.3},{"x":0.1,"y":-8.7,"v":-13.4},{"x":0.12,"y":-8.7,"v":-14.6},{"x":0.14,"y":-8.7,"v":-16},{"x":0.16,"y":-8.7,"v":-17.4},{"x":0.18,"y":-8.7,"v":-18.8},
{"x":-0.2,"y":-10.5,"v":-19},{"x":-0.18,"y":-10.5,"v":-17.8},{"x":-0.16,"y":-10.5,"v":-16.4},{"x":-0.14,"y":-10.5,"v":-15.2},{"x":-0.12,"y":-10.5,"v":-14.1},{"x":-0.1,"y":-10.5,"v":-13},{"x":-0.08,"y":-10.5,"v":-11.6},{"x":-0.06,"y":-10.5,"v":-9},{"x":-0.04,"y":-10.5,"v":-6.4},{"x":-0.02,"y":-10.5,"v":-4},{"x":0,"y":-10.5,"v":-4.4},{"x":0.02,"y":-10.5,"v":-7},{"x":0.04,"y":-10.5,"v":-9.6},{"x":0.06,"y":-10.5,"v":-12},{"x":0.08,"y":-10.5,"v":-13.4},{"x":0.1,"y":-10.5,"v":-14.5},{"x":0.12,"y":-10.5,"v":-15.7},{"x":0.14,"y":-10.5,"v":-17.2},{"x":0.16,"y":-10.5,"v":-18.6},{"x":0.18,"y":-10.5,"v":-19.7},
{"x":-0.2,"y":-12.2,"v":-19},{"x":-0.18,"y":-12.2,"v":-17.7},{"x":-0.16,"y":-12.2,"v":-16.3},{"x":-0.14,"y":-12.2,"v":-15.1},{"x":-0.12,"y":-12.2,"v":-14},{"x":-0.1,"y":-12.2,"v":-12.9},{"x":-0.08,"y":-12.2,"v":-11.4},{"x":-0.06,"y":-12.2,"v":-8.9},{"x":-0.04,"y":-12.2,"v":-6.3},{"x":-0.02,"y":-12.2,"v":-3.8},{"x":0,"y":-12.2,"v":-4.4},{"x":0.02,"y":-12.2,"v":-7.1},{"x":0.04,"y":-12.2,"v":-9.8},{"x":0.06,"y":-12.2,"v":-12.2},{"x":0.08,"y":-12.2,"v":-13.4},{"x":0.1,"y":-12.2,"v":-14.6},{"x":0.12,"y":-12.2,"v":-16},{"x":0.14,"y":-12.2,"v":-17.4},{"x":0.16,"y":-12.2,"v":-18.9},
{"x":-0.2,"y":-14,"v":-18.8},{"x":-0.18,"y":-14,"v":-17.4},{"x":-0.16,"y":-14,"v":-16.1},{"x":-0.14,"y":-14,"v":-14.9},{"x":-0.12,"y":-14,"v":-13.8},{"x":-0.1,"y":-14,"v":-12.8},{"x":-0.08,"y":-14,"v":-10.8},{"x":-0.06,"y":-14,"v":-8.4},{"x":-0.04,"y":-14,"v":-5.8},{"x":-0.02,"y":-14,"v":-4},{"x":0,"y":-14,"v":-4.8},{"x":0.02,"y":-14,"v":-7.6},{"x":0.04,"y":-14,"v":-10.2},{"x":0.06,"y":-14,"v":-12.4},{"x":0.08,"y":-14,"v":-13.7},{"x":0.1,"y":-14,"v":-15},{"x":0.12,"y":-14,"v":-16.4},{"x":0.14,"y":-14,"v":-18},{"x":0.16,"y":-14,"v":-19.5},
{"x":-0.22,"y":-15.7,"v":-19.7},{"x":-0.2,"y":-15.7,"v":-18.4},{"x":-0.18,"y":-15.7,"v":-17},{"x":-0.16,"y":-15.7,"v":-15.7},{"x":-0.14,"y":-15.7,"v":-14.5},{"x":-0.12,"y":-15.7,"v":-13.4},{"x":-0.1,"y":-15.7,"v":-12.3},{"x":-0.08,"y":-15.7,"v":-10},{"x":-0.06,"y":-15.7,"v":-7.6},{"x":-0.04,"y":-15.7,"v":-4.9},{"x":-0.02,"y":-15.7,"v":-3},{"x":0,"y":-15.7,"v":-4.4},{"x":0.02,"y":-15.7,"v":-7.3},{"x":0.04,"y":-15.7,"v":-10},{"x":0.06,"y":-15.7,"v":-12.4},{"x":0.08,"y":-15.7,"v":-13.7},{"x":0.1,"y":-15.7,"v":-15},{"x":0.12,"y":-15.7,"v":-16.5},{"x":0.14,"y":-15.7,"v":-18},{"x":0.16,"y":-15.7,"v":-19.5},
{"x":-0.24,"y":-17.4,"v":-19.8},{"x":-0.22,"y":-17.4,"v":-18.8},{"x":-0.2,"y":-17.4,"v":-17.4},{"x":-0.18,"y":-17.4,"v":-16.1},{"x":-0.16,"y":-17.4,"v":-14.9},{"x":-0.14,"y":-17.4,"v":-13.8},{"x":-0.12,"y":-17.4,"v":-12.9},{"x":-0.1,"y":-17.4,"v":-11},{"x":-0.08,"y":-17.4,"v":-8.4},{"x":-0.06,"y":-17.4,"v":-5.8},{"x":-0.04,"y":-17.4,"v":-3.2},{"x":-0.02,"y":-17.4,"v":-2.7},{"x":0,"y":-17.4,"v":-5},{"x":0.02,"y":-17.4,"v":-7.8},{"x":0.04,"y":-17.4,"v":-10.5},{"x":0.06,"y":-17.4,"v":-12.6},{"x":0.08,"y":-17.4,"v":-13.9},{"x":0.1,"y":-17.4,"v":-15.2},{"x":0.12,"y":-17.4,"v":-16.7},{"x":0.14,"y":-17.4,"v":-18.2},{"x":0.16,"y":-17.4,"v":-19.6},
{"x":-0.22,"y":-19.2,"v":-19.2},{"x":-0.2,"y":-19.2,"v":-18},{"x":-0.18,"y":-19.2,"v":-16.7},{"x":-0.16,"y":-19.2,"v":-15.4},{"x":-0.14,"y":-19.2,"v":-14.2},{"x":-0.12,"y":-19.2,"v":-13.2},{"x":-0.1,"y":-19.2,"v":-11.4},{"x":-0.08,"y":-19.2,"v":-8.8},{"x":-0.06,"y":-19.2,"v":-6.1},{"x":-0.04,"y":-19.2,"v":-3.3},{"x":-0.02,"y":-19.2,"v":-2.7},{"x":0,"y":-19.2,"v":-5.6},{"x":0.02,"y":-19.2,"v":-8.6},{"x":0.04,"y":-19.2,"v":-11.2},{"x":0.06,"y":-19.2,"v":-13},{"x":0.08,"y":-19.2,"v":-14.4},{"x":0.1,"y":-19.2,"v":-15.9},{"x":0.12,"y":-19.2,"v":-17.5},{"x":0.14,"y":-19.2,"v":-19},
{"x":-0.24,"y":-20.9,"v":-19.7},{"x":-0.22,"y":-20.9,"v":-18.6},{"x":-0.2,"y":-20.9,"v":-17.3},{"x":-0.18,"y":-20.9,"v":-15.9},{"x":-0.16,"y":-20.9,"v":-14.7},{"x":-0.14,"y":-20.9,"v":-13.7},{"x":-0.12,"y":-20.9,"v":-12.7},{"x":-0.1,"y":-20.9,"v":-10.5},{"x":-0.08,"y":-20.9,"v":-8},{"x":-0.06,"y":-20.9,"v":-5.4},{"x":-0.04,"y":-20.9,"v":-2.9},{"x":-0.02,"y":-20.9,"v":-2.3},{"x":0,"y":-20.9,"v":-4.9},{"x":0.02,"y":-20.9,"v":-7.8},{"x":0.04,"y":-20.9,"v":-10.3},{"x":0.06,"y":-20.9,"v":-12.4},{"x":0.08,"y":-20.9,"v":-13.7},{"x":0.1,"y":-20.9,"v":-15},{"x":0.12,"y":-20.9,"v":-16.4},{"x":0.14,"y":-20.9,"v":-18},{"x":0.16,"y":-20.9,"v":-19.4},
{"x":-0.22,"y":-22.7,"v":-19.2},{"x":-0.2,"y":-22.7,"v":-18},{"x":-0.18,"y":-22.7,"v":-16.6},{"x":-0.16,"y":-22.7,"v":-15.3},{"x":-0.14,"y":-22.7,"v":-14.1},{"x":-0.12,"y":-22.7,"v":-13},{"x":-0.1,"y":-22.7,"v":-11.4},{"x":-0.08,"y":-22.7,"v":-9},{"x":-0.06,"y":-22.7,"v":-6.4},{"x":-0.04,"y":-22.7,"v":-3.8},{"x":-0.02,"y":-22.7,"v":-2.5},{"x":0,"y":-22.7,"v":-5.2},{"x":0.02,"y":-22.7,"v":-8.2},{"x":0.04,"y":-22.7,"v":-10.8},{"x":0.06,"y":-22.7,"v":-12.8},{"x":0.08,"y":-22.7,"v":-14},{"x":0.1,"y":-22.7,"v":-15.4},{"x":0.12,"y":-22.7,"v":-16.9},{"x":0.14,"y":-22.7,"v":-18.4},{"x":0.16,"y":-22.7,"v":-19.8},
{"x":-0.24,"y":-24.4,"v":-19.9},{"x":-0.22,"y":-24.4,"v":-18.8},{"x":-0.2,"y":-24.4,"v":-17.5},{"x":-0.18,"y":-24.4,"v":-16.2},{"x":-0.16,"y":-24.4,"v":-15},{"x":-0.14,"y":-24.4,"v":-13.9},{"x":-0.12,"y":-24.4,"v":-12.9},{"x":-0.1,"y":-24.4,"v":-11.2},{"x":-0.08,"y":-24.4,"v":-8.8},{"x":-0.06,"y":-24.4,"v":-6.2},{"x":-0.04,"y":-24.4,"v":-3.9},{"x":-0.02,"y":-24.4,"v":-3.7},{"x":0,"y":-24.4,"v":-5},{"x":0.02,"y":-24.4,"v":-7.6},{"x":0.04,"y":-24.4,"v":-10.2},{"x":0.06,"y":-24.4,"v":-12.3},{"x":0.08,"y":-24.4,"v":-13.4},{"x":0.1,"y":-24.4,"v":-14.6},{"x":0.12,"y":-24.4,"v":-16},{"x":0.14,"y":-24.4,"v":-17.4},{"x":0.16,"y":-24.4,"v":-18.9},
{"x":-0.24,"y":-26.1,"v":-19.6},{"x":-0.22,"y":-26.1,"v":-18.4},{"x":-0.2,"y":-26.1,"v":-17.1},{"x":-0.18,"y":-26.1,"v":-15.8},{"x":-0.16,"y":-26.1,"v":-14.6},{"x":-0.14,"y":-26.1,"v":-13.6},{"x":-0.12,"y":-26.1,"v":-12.6},{"x":-0.1,"y":-26.1,"v":-10.8},{"x":-0.08,"y":-26.1,"v":-8.4},{"x":-0.06,"y":-26.1,"v":-5.8},{"x":-0.04,"y":-26.1,"v":-2.8},{"x":-0.02,"y":-26.1,"v":-2.2},{"x":0,"y":-26.1,"v":-4.6},{"x":0.02,"y":-26.1,"v":-7.4},{"x":0.04,"y":-26.1,"v":-10},{"x":0.06,"y":-26.1,"v":-12},{"x":0.08,"y":-26.1,"v":-13.2},{"x":0.1,"y":-26.1,"v":-14.2},{"x":0.12,"y":-26.1,"v":-15.6},{"x":0.14,"y":-26.1,"v":-17},{"x":0.16,"y":-26.1,"v":-18.4},{"x":0.18,"y":-26.1,"v":-19.7},
{"x":-0.22,"y":-27.9,"v":-19.6},{"x":-0.2,"y":-27.9,"v":-18.5},{"x":-0.18,"y":-27.9,"v":-17.2},{"x":-0.16,"y":-27.9,"v":-15.9},{"x":-0.14,"y":-27.9,"v":-14.7},{"x":-0.12,"y":-27.9,"v":-13.6},{"x":-0.1,"y":-27.9,"v":-12.3},{"x":-0.08,"y":-27.9,"v":-9.8},{"x":-0.06,"y":-27.9,"v":-7.4},{"x":-0.04,"y":-27.9,"v":-4.6},{"x":-0.02,"y":-27.9,"v":-3},{"x":0,"y":-27.9,"v":-3.7},{"x":0.02,"y":-27.9,"v":-6.4},{"x":0.04,"y":-27.9,"v":-9},{"x":0.06,"y":-27.9,"v":-11.4},{"x":0.08,"y":-27.9,"v":-12.9},{"x":0.1,"y":-27.9,"v":-13.9},{"x":0.12,"y":-27.9,"v":-15.2},{"x":0.14,"y":-27.9,"v":-16.6},{"x":0.16,"y":-27.9,"v":-18},{"x":0.18,"y":-27.9,"v":-19.4},
{"x":-0.2,"y":-29.6,"v":-18.8},{"x":-0.18,"y":-29.6,"v":-17.4},{"x":-0.16,"y":-29.6,"v":-16},{"x":-0.14,"y":-29.6,"v":-14.9},{"x":-0.12,"y":-29.6,"v":-13.8},{"x":-0.1,"y":-29.6,"v":-12.6},{"x":-0.08,"y":-29.6,"v":-10.2},{"x":-0.06,"y":-29.6,"v":-7.8},{"x":-0.04,"y":-29.6,"v":-5},{"x":-0.02,"y":-29.6,"v":-3.3},{"x":0,"y":-29.6,"v":-3.8},{"x":0.02,"y":-29.6,"v":-6.4},{"x":0.04,"y":-29.6,"v":-9},{"x":0.06,"y":-29.6,"v":-11.4},{"x":0.08,"y":-29.6,"v":-12.9},{"x":0.1,"y":-29.6,"v":-13.9},{"x":0.12,"y":-29.6,"v":-15.2},{"x":0.14,"y":-29.6,"v":-16.6},{"x":0.16,"y":-29.6,"v":-18},{"x":0.18,"y":-29.6,"v":-19.4},
{"x":-0.18,"y":-31.4,"v":-19.4},{"x":-0.16,"y":-31.4,"v":-17.9},{"x":-0.14,"y":-31.4,"v":-16.4},{"x":-0.12,"y":-31.4,"v":-15.2},{"x":-0.1,"y":-31.4,"v":-14},{"x":-0.08,"y":-31.4,"v":-12.8},{"x":-0.06,"y":-31.4,"v":-10.5},{"x":-0.04,"y":-31.4,"v":-8},{"x":-0.02,"y":-31.4,"v":-5.2},{"x":0,"y":-31.4,"v":-2.4},{"x":0.02,"y":-31.4,"v":-2},{"x":0.04,"y":-31.4,"v":-5},{"x":0.06,"y":-31.4,"v":-7.8},{"x":0.08,"y":-31.4,"v":-10.2},{"x":0.1,"y":-31.4,"v":-12.2},{"x":0.12,"y":-31.4,"v":-13.4},{"x":0.14,"y":-31.4,"v":-14.6},{"x":0.16,"y":-31.4,"v":-16},{"x":0.18,"y":-31.4,"v":-17.6},{"x":0.2,"y":-31.4,"v":-19},
{"x":-0.2,"y":-33.1,"v":-19.6},{"x":-0.18,"y":-33.1,"v":-18.4},{"x":-0.16,"y":-33.1,"v":-17},{"x":-0.14,"y":-33.1,"v":-15.7},{"x":-0.12,"y":-33.1,"v":-14.5},{"x":-0.1,"y":-33.1,"v":-13.4},{"x":-0.08,"y":-33.1,"v":-12.4},{"x":-0.06,"y":-33.1,"v":-10},{"x":-0.04,"y":-33.1,"v":-7.4},{"x":-0.02,"y":-33.1,"v":-4.8},{"x":0,"y":-33.1,"v":-2.4},{"x":0.02,"y":-33.1,"v":-2},{"x":0.04,"y":-33.1,"v":-3.5},{"x":0.06,"y":-33.1,"v":-6.4},{"x":0.08,"y":-33.1,"v":-8.9},{"x":0.1,"y":-33.1,"v":-11},{"x":0.12,"y":-33.1,"v":-12.6},{"x":0.14,"y":-33.1,"v":-13.5},{"x":0.16,"y":-33.1,"v":-14.5},{"x":0.18,"y":-33.1,"v":-15.7},{"x":0.2,"y":-33.1,"v":-17},{"x":0.22,"y":-33.1,"v":-18.3},{"x":0.24,"y":-33.1,"v":-19.6},
{"x":-0.18,"y":-34.9,"v":-18.8},{"x":-0.16,"y":-34.9,"v":-17.6},{"x":-0.14,"y":-34.9,"v":-16.4},{"x":-0.12,"y":-34.9,"v":-15.1},{"x":-0.1,"y":-34.9,"v":-14},{"x":-0.08,"y":-34.9,"v":-13},{"x":-0.06,"y":-34.9,"v":-11},{"x":-0.04,"y":-34.9,"v":-8.6},{"x":-0.02,"y":-34.9,"v":-6},{"x":0,"y":-34.9,"v":-3.6},{"x":0.02,"y":-34.9,"v":-1.9},{"x":0.04,"y":-34.9,"v":-2.7},{"x":0.06,"y":-34.9,"v":-5.2},{"x":0.08,"y":-34.9,"v":-7.6},{"x":0.1,"y":-34.9,"v":-10},{"x":0.12,"y":-34.9,"v":-12},{"x":0.14,"y":-34.9,"v":-13},{"x":0.16,"y":-34.9,"v":-13.9},{"x":0.18,"y":-34.9,"v":-15},{"x":0.2,"y":-34.9,"v":-16.2},{"x":0.22,"y":-34.9,"v":-17.5},{"x":0.24,"y":-34.9,"v":-18.6},{"x":0.26,"y":-34.9,"v":-19.7},
{"x":-0.18,"y":-36.6,"v":-19.7},{"x":-0.16,"y":-36.6,"v":-18.6},{"x":-0.14,"y":-36.6,"v":-17.4},{"x":-0.12,"y":-36.6,"v":-16},{"x":-0.1,"y":-36.6,"v":-14.9},{"x":-0.08,"y":-36.6,"v":-13.8},{"x":-0.06,"y":-36.6,"v":-12.4},{"x":-0.04,"y":-36.6,"v":-10},{"x":-0.02,"y":-36.6,"v":-7},{"x":0,"y":-36.6,"v":-4.2},{"x":0.02,"y":-36.6,"v":-1.8},{"x":0.04,"y":-36.6,"v":-2.4},{"x":0.06,"y":-36.6,"v":-5},{"x":0.08,"y":-36.6,"v":-7.4},{"x":0.1,"y":-36.6,"v":-9.7},{"x":0.12,"y":-36.6,"v":-11.7},{"x":0.14,"y":-36.6,"v":-12.9},{"x":0.16,"y":-36.6,"v":-13.8},{"x":0.18,"y":-36.6,"v":-14.8},{"x":0.2,"y":-36.6,"v":-16},{"x":0.22,"y":-36.6,"v":-17.3},{"x":0.24,"y":-36.6,"v":-18.5},{"x":0.26,"y":-36.6,"v":-19.5},
{"x":-0.18,"y":-38.3,"v":-19.8},{"x":-0.16,"y":-38.3,"v":-18.5},{"x":-0.14,"y":-38.3,"v":-17.2},{"x":-0.12,"y":-38.3,"v":-15.9},{"x":-0.1,"y":-38.3,"v":-14.7},{"x":-0.08,"y":-38.3,"v":-13.6},{"x":-0.06,"y":-38.3,"v":-12.2},{"x":-0.04,"y":-38.3,"v":-9.8},{"x":-0.02,"y":-38.3,"v":-7},{"x":0,"y":-38.3,"v":-4},{"x":0.02,"y":-38.3,"v":-2},{"x":0.04,"y":-38.3,"v":-2.4},{"x":0.06,"y":-38.3,"v":-5},{"x":0.08,"y":-38.3,"v":-7.4},{"x":0.1,"y":-38.3,"v":-9.8},{"x":0.12,"y":-38.3,"v":-11.8},{"x":0.14,"y":-38.3,"v":-13},{"x":0.16,"y":-38.3,"v":-13.9},{"x":0.18,"y":-38.3,"v":-14.8},{"x":0.2,"y":-38.3,"v":-16},{"x":0.22,"y":-38.3,"v":-17.3},{"x":0.24,"y":-38.3,"v":-18.4},{"x":0.26,"y":-38.3,"v":-19.8},
{"x":-0.18,"y":-40.1,"v":-19.5},{"x":-0.16,"y":-40.1,"v":-18.2},{"x":-0.14,"y":-40.1,"v":-16.9},{"x":-0.12,"y":-40.1,"v":-15.6},{"x":-0.1,"y":-40.1,"v":-14.4},{"x":-0.08,"y":-40.1,"v":-13.4},{"x":-0.06,"y":-40.1,"v":-11.8},{"x":-0.04,"y":-40.1,"v":-9.2},{"x":-0.02,"y":-40.1,"v":-6.6},{"x":0,"y":-40.1,"v":-3.8},{"x":0.02,"y":-40.1,"v":-3},{"x":0.04,"y":-40.1,"v":-3.4},{"x":0.06,"y":-40.1,"v":-5.6},{"x":0.08,"y":-40.1,"v":-8},{"x":0.1,"y":-40.1,"v":-10.2},{"x":0.12,"y":-40.1,"v":-12.1},{"x":0.14,"y":-40.1,"v":-13.1},{"x":0.16,"y":-40.1,"v":-14},{"x":0.18,"y":-40.1,"v":-15.2},{"x":0.2,"y":-40.1,"v":-16.4},{"x":0.22,"y":-40.1,"v":-17.7},{"x":0.24,"y":-40.1,"v":-18.9},
{"x":-0.22,"y":-41.8,"v":-19.9},{"x":-0.2,"y":-41.8,"v":-19.3},{"x":-0.18,"y":-41.8,"v":-18.2},{"x":-0.16,"y":-41.8,"v":-17.2},{"x":-0.14,"y":-41.8,"v":-15.8},{"x":-0.12,"y":-41.8,"v":-14.6},{"x":-0.1,"y":-41.8,"v":-13.4},{"x":-0.08,"y":-41.8,"v":-12},{"x":-0.06,"y":-41.8,"v":-10.2},{"x":-0.04,"y":-41.8,"v":-7.7},{"x":-0.02,"y":-41.8,"v":-4.9},{"x":0,"y":-41.8,"v":-1.8},{"x":0.02,"y":-41.8,"v":-0.9},{"x":0.04,"y":-41.8,"v":-3.9},{"x":0.06,"y":-41.8,"v":-7},{"x":0.08,"y":-41.8,"v":-9.4},{"x":0.1,"y":-41.8,"v":-11.6},{"x":0.12,"y":-41.8,"v":-13},{"x":0.14,"y":-41.8,"v":-14.2},{"x":0.16,"y":-41.8,"v":-15.4},{"x":0.18,"y":-41.8,"v":-16.8},{"x":0.2,"y":-41.8,"v":-18},{"x":0.22,"y":-41.8,"v":-19.2},{"x":0.24,"y":-41.8,"v":-19.9},
{"x":-0.22,"y":-43.6,"v":-19.6},{"x":-0.2,"y":-43.6,"v":-18.6},{"x":-0.18,"y":-43.6,"v":-17.4},{"x":-0.16,"y":-43.6,"v":-16.2},{"x":-0.14,"y":-43.6,"v":-14.9},{"x":-0.12,"y":-43.6,"v":-13.7},{"x":-0.1,"y":-43.6,"v":-12.5},{"x":-0.08,"y":-43.6,"v":-10.6},{"x":-0.06,"y":-43.6,"v":-8.2},{"x":-0.04,"y":-43.6,"v":-5.7},{"x":-0.02,"y":-43.6,"v":-2.8},{"x":0,"y":-43.6,"v":-0.3},{"x":0.02,"y":-43.6,"v":-2},{"x":0.04,"y":-43.6,"v":-5},{"x":0.06,"y":-43.6,"v":-7.6},{"x":0.08,"y":-43.6,"v":-10},{"x":0.1,"y":-43.6,"v":-12},{"x":0.12,"y":-43.6,"v":-13},{"x":0.14,"y":-43.6,"v":-14.3},{"x":0.16,"y":-43.6,"v":-15.6},{"x":0.18,"y":-43.6,"v":-17},{"x":0.2,"y":-43.6,"v":-18.2},{"x":0.22,"y":-43.6,"v":-19.4},
{"x":-0.26,"y":-45.3,"v":-19.8},{"x":-0.24,"y":-45.3,"v":-18.8},{"x":-0.22,"y":-45.3,"v":-17.7},{"x":-0.2,"y":-45.3,"v":-16.5},{"x":-0.18,"y":-45.3,"v":-15.4},{"x":-0.16,"y":-45.3,"v":-14.3},{"x":-0.14,"y":-45.3,"v":-13.3},{"x":-0.12,"y":-45.3,"v":-12.3},{"x":-0.1,"y":-45.3,"v":-10.5},{"x":-0.08,"y":-45.3,"v":-8.2},{"x":-0.06,"y":-45.3,"v":-5.8},{"x":-0.04,"y":-45.3,"v":-3.2},{"x":-0.02,"y":-45.3,"v":-0.8},{"x":0,"y":-45.3,"v":-1.3},{"x":0.02,"y":-45.3,"v":-3.8},{"x":0.04,"y":-45.3,"v":-6.1},{"x":0.06,"y":-45.3,"v":-8.4},{"x":0.08,"y":-45.3,"v":-10.5},{"x":0.1,"y":-45.3,"v":-12.2},{"x":0.12,"y":-45.3,"v":-13.1},{"x":0.14,"y":-45.3,"v":-14},{"x":0.16,"y":-45.3,"v":-15},{"x":0.18,"y":-45.3,"v":-16.3},{"x":0.2,"y":-45.3,"v":-17.5},{"x":0.22,"y":-45.3,"v":-18.7},{"x":0.24,"y":-45.3,"v":-19.8},
{"x":-0.3,"y":-47.1,"v":-19.8},{"x":-0.28,"y":-47.1,"v":-19},{"x":-0.26,"y":-47.1,"v":-18},{"x":-0.24,"y":-47.1,"v":-16.7},{"x":-0.22,"y":-47.1,"v":-15.8},{"x":-0.2,"y":-47.1,"v":-14.8},{"x":-0.18,"y":-47.1,"v":-13.9},{"x":-0.16,"y":-47.1,"v":-13.1},{"x":-0.14,"y":-47.1,"v":-12.1},{"x":-0.12,"y":-47.1,"v":-10.7},{"x":-0.1,"y":-47.1,"v":-8.7},{"x":-0.08,"y":-47.1,"v":-6.6},{"x":-0.06,"y":-47.1,"v":-4.2},{"x":-0.04,"y":-47.1,"v":-1.8},{"x":-0.02,"y":-47.1,"v":-0.2},{"x":0,"y":-47.1,"v":-2.2},{"x":0.02,"y":-47.1,"v":-4.8},{"x":0.04,"y":-47.1,"v":-7.2},{"x":0.06,"y":-47.1,"v":-9.2},{"x":0.08,"y":-47.1,"v":-11},{"x":0.1,"y":-47.1,"v":-12.6},{"x":0.12,"y":-47.1,"v":-13.4},{"x":0.14,"y":-47.1,"v":-14.2},{"x":0.16,"y":-47.1,"v":-15.3},{"x":0.18,"y":-47.1,"v":-16.4},{"x":0.2,"y":-47.1,"v":-17.6},{"x":0.22,"y":-47.1,"v":-18.7},{"x":0.24,"y":-47.1,"v":-19.6}
]},"layer":[{"mark":{"type":"rect","width":25.8,"height":26.2,"strokeWidth":0},"encoding":{"x":{"field":"x","type":"quantitative","scale":{"domain":[-0.966,0.966],"nice":false,"zero":false},"axis":{"values":[-0.8,-0.6,-0.4,-0.2,0,0.2,0.4,0.6,0.8],"labelExpr":"datum.value==0?'0':format(datum.value,'.1f')","title":"sin θ","titleFont":"Liberation Serif","titleFontSize":64,"titleFontWeight":"normal","titleColor":"#000000","titlePadding":14,"labelFont":"Liberation Mono","labelFontSize":62,"labelColor":"#262626","labelPadding":44,"tickColor":"#262626","tickSize":-24,"tickWidth":1,"domain":false,"grid":true,"gridColor":"#262626","gridOpacity":0.18,"gridWidth":1,"zindex":1}},"y":{"field":"y","type":"quantitative","scale":{"domain":[-51.45,51.45],"nice":false,"zero":false},"axis":{"values":[-50,-40,-30,-20,-10,0,10,20,30,40,50],"title":"Bistatic Doppler frequency [Hz]","titleFont":"Liberation Serif","titleFontSize":68,"titleFontWeight":"normal","titleColor":"#000000","titlePadding":14,"labelFont":"Liberation Mono","labelFontSize":62,"labelColor":"#262626","labelPadding":47,"tickColor":"#262626","tickSize":-24,"tickWidth":1,"domain":false,"grid":true,"gridColor":"#262626","gridOpacity":0.18,"gridWidth":1,"zindex":1}},"color":{"field":"v","type":"quantitative","scale":{"domain":[-20,-17.5,-15,-12.5,-10,-7.5,-5,-4,-2.5,0],"range":["#352a87","#0363e1","#1485d4","#06a7c6","#38b99e","#92bf73","#d9ba56","#fcbc3d","#fcce2e","#f9fb0e"]},"legend":{"orient":"none","legendX":2465,"legendY":0,"title":null,"type":"gradient","format":"d","gradientLength":1517,"gradientThickness":46,"gradientStrokeColor":"#262626","gradientStrokeWidth":1.5,"values":[0,-2,-4,-6,-8,-10,-12,-14,-16,-18,-20],"labelFont":"Liberation Mono","labelFontSize":62,"labelColor":"#262626","labelOffset":14,"labelOverlap":false,"encode":{"labels":{"update":{"baseline":{"value":"middle"}}}}}}}}]}
